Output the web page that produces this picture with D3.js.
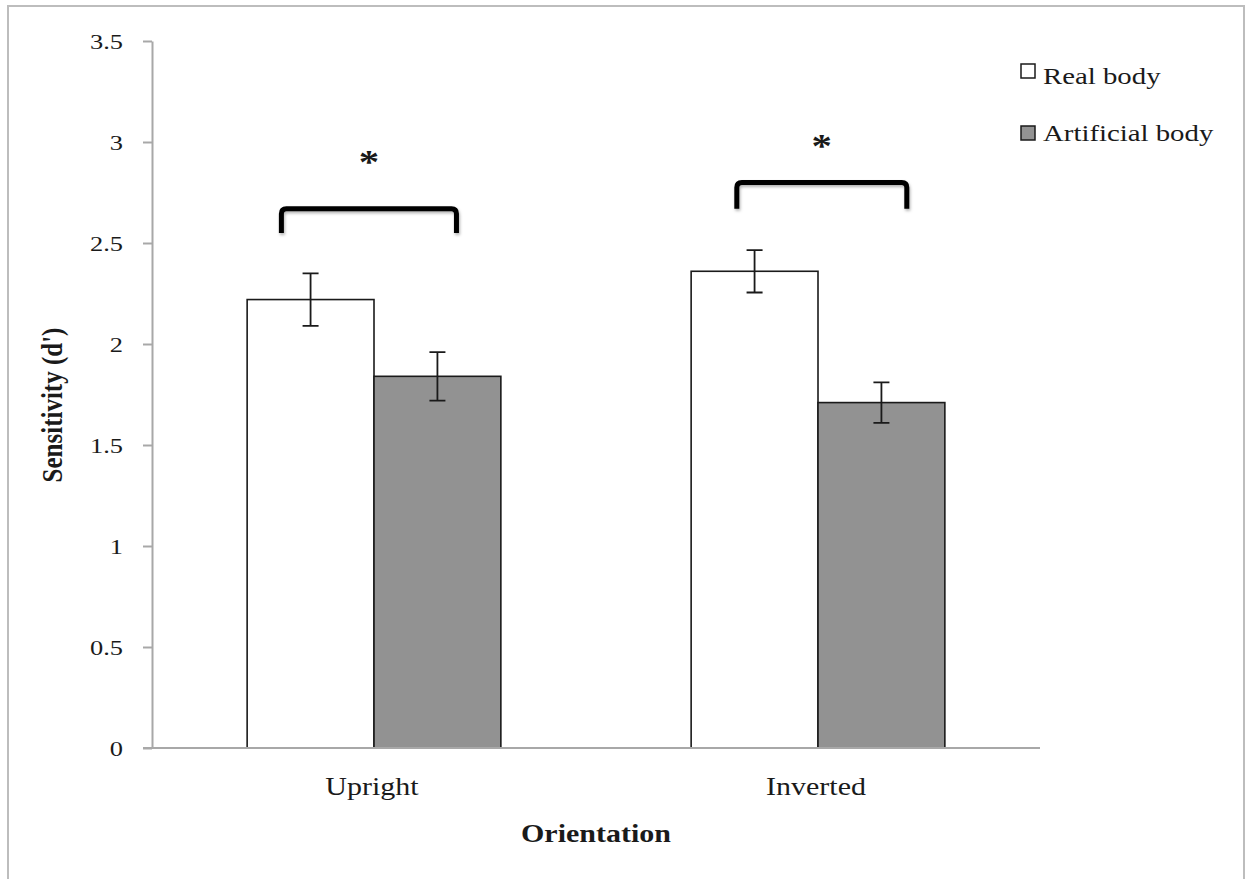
<!DOCTYPE html>
<html>
<head>
<meta charset="utf-8">
<script src="https://cdn.jsdelivr.net/npm/d3@7"></script>
<style>
    body { margin: 0; background: #fff; }
    text { font-family: "Liberation Serif", "Times New Roman", serif; fill: #1a1a1a; }
</style>
</head>
<body>
<div id="chart1"></div>
<script>
var SVGWidth = 1245;
var SVGHeight = 879;

// plot area
var Left = 152, Right = 1040, Top = 41, Bottom = 748;
// the source picture is stretched sideways, so text gets stretched too
var Stretch = 1.2;

// data
var categories = ["Upright", "Inverted"];
var series = ["Real body", "Artificial body"];
var seriesFill = ["#ffffff", "#929292"];
var means = [[2.22, 1.84], [2.36, 1.71]];   // [category][series]
var errors = [[0.13, 0.12], [0.105, 0.10]];
var yTicks = [0, 0.5, 1, 1.5, 2, 2.5, 3, 3.5];

// significance brackets: y levels in d' units
var bracketLow = [2.55, 2.67];
var bracketHigh = [2.67, 2.80];
var starLevel = [2.92, 3.0];
// where each bracket starts / ends, as a fraction of the bar width
var bracketFrom = [0.27, 0.36];
var bracketTo = [0.65, 0.70];

var svg = d3.select("#chart1")
    .append("svg")
        .attr("width", SVGWidth)
        .attr("height", SVGHeight);

var defs = svg.append("defs");
var shadow = defs.append("filter").attr("id", "shadow")
    .attr("x", "-10%").attr("y", "-20%").attr("width", "120%").attr("height", "160%");
shadow.append("feDropShadow")
    .attr("dx", 1).attr("dy", 2).attr("stdDeviation", 1.5)
    .attr("flood-color", "#000").attr("flood-opacity", 0.3);

// outer frame
svg.append("rect")
    .attr("x", 8).attr("y", 6)
    .attr("width", 1236).attr("height", 880)
    .attr("fill", "none")
    .attr("stroke", "#bdbdbd")
    .attr("stroke-width", 2);

var x = d3.scaleBand()
    .domain(categories)
    .range([Left, Right])
    .paddingInner(0)
    .paddingOuter(0);

var xSub = d3.scaleBand()
    .domain(series)
    .range([0, x.bandwidth()])
    .paddingInner(0)
    .paddingOuter(0.75);

var y = d3.scaleLinear()
    .domain([0, 3.5])
    .range([Bottom, Top]);

var color = d3.scaleOrdinal().domain(series).range(seriesFill);

// y axis
var yAxis = svg.append("g")
    .attr("transform", "translate(" + Left + ",0)")
    .call(d3.axisLeft(y)
        .tickValues(yTicks)
        .tickFormat(function(d) { return String(d); })
        .tickSize(9)
        .tickSizeOuter(0)
        .tickPadding(17));

yAxis.select(".domain").attr("stroke", "#a8a8a8").attr("stroke-width", 2);
yAxis.selectAll(".tick line").attr("stroke", "#a8a8a8").attr("stroke-width", 2);
yAxis.selectAll(".tick text")
    .attr("x", null)
    .attr("dy", "0.35em")
    .attr("transform", "translate(-29,0) scale(" + Stretch + ",1)")
    .style("font-family", "Liberation Serif")
    .style("font-size", "22px")
    .attr("fill", "#1a1a1a");

// bars
var groups = svg.selectAll(".group")
    .data(categories)
    .enter()
    .append("g")
    .attr("class", "group")
    .attr("transform", function(d) { return "translate(" + x(d) + ",0)"; });

groups.selectAll("rect")
    .data(function(d, i) {
        return series.map(function(s, j) {
            return { cat: d, series: s, value: means[i][j], err: errors[i][j] };
        });
    })
    .enter()
    .append("rect")
    .attr("x", function(d) { return xSub(d.series); })
    .attr("y", function(d) { return y(d.value); })
    .attr("width", xSub.bandwidth())
    .attr("height", function(d) { return y(0) - y(d.value); })
    .attr("fill", function(d) { return color(d.series); })
    .attr("stroke", "#1a1a1a")
    .attr("stroke-width", 1.6);

// x axis line (drawn over the bar bottoms)
svg.append("line")
    .attr("x1", Left - 9).attr("x2", Right)
    .attr("y1", y(0)).attr("y2", y(0))
    .attr("stroke", "#a8a8a8")
    .attr("stroke-width", 2);

// error bars
var capHalf = 8;
groups.selectAll(".err")
    .data(function(d, i) {
        return series.map(function(s, j) {
            return { series: s, value: means[i][j], err: errors[i][j] };
        });
    })
    .enter()
    .append("path")
    .attr("class", "err")
    .attr("fill", "none")
    .attr("stroke", "#1a1a1a")
    .attr("stroke-width", 1.8)
    .attr("d", function(d) {
        var cx = xSub(d.series) + xSub.bandwidth() / 2;
        var hi = y(d.value + d.err), lo = y(d.value - d.err);
        return "M" + (cx - capHalf) + "," + hi + "H" + (cx + capHalf) +
            "M" + cx + "," + hi + "V" + lo +
            "M" + (cx - capHalf) + "," + lo + "H" + (cx + capHalf);
    });

// significance brackets + stars
categories.forEach(function(cat, i) {
    var bw = xSub.bandwidth();
    var x0 = x(cat) + xSub(series[0]) + bracketFrom[i] * bw;
    var x1 = x(cat) + xSub(series[1]) + bracketTo[i] * bw;
    var yl = y(bracketLow[i]), yh = y(bracketHigh[i]);
    var r = 5;
    svg.append("path")
        .attr("fill", "none")
        .attr("stroke", "#000")
        .attr("stroke-width", 5)
        .attr("stroke-linecap", "butt")
        .attr("filter", "url(#shadow)")
        .attr("d", "M" + x0 + "," + yl + "V" + (yh + r) +
            "Q" + x0 + "," + yh + " " + (x0 + r) + "," + yh +
            "H" + (x1 - r) +
            "Q" + x1 + "," + yh + " " + x1 + "," + (yh + r) +
            "V" + yl);

    svg.append("text")
        .attr("text-anchor", "middle")
        .attr("transform", "translate(" + ((x0 + x1) / 2) + "," + (y(starLevel[i]) + 15) + ") scale(" + Stretch + ",1)")
        .style("font-size", "34px")
        .style("font-weight", "bold")
        .text("*");
});

// category labels
svg.selectAll(".catLabel")
    .data(categories)
    .enter()
    .append("text")
    .attr("class", "catLabel")
    .attr("text-anchor", "middle")
    .attr("transform", function(d) {
        return "translate(" + (x(d) + x.bandwidth() / 2 - 2) + "," + (Bottom + 47) + ") scale(" + Stretch + ",1)";
    })
    .style("font-size", "25px")
    .text(function(d) { return d; });

// axis titles
svg.append("text")
    .attr("text-anchor", "middle")
    .attr("transform", "translate(" + ((Left + Right) / 2) + "," + 842 + ") scale(" + Stretch + ",1)")
    .style("font-size", "25px")
    .style("font-weight", "bold")
    .text("Orientation");

svg.append("text")
    .attr("text-anchor", "middle")
    .attr("transform", "translate(62," + 405 + ") scale(" + Stretch + ",1) rotate(-90)")
    .style("font-size", "25px")
    .style("font-weight", "bold")
    .text("Sensitivity (d')");

// legend
var legend = svg.selectAll(".legend")
    .data(series)
    .enter()
    .append("g")
    .attr("class", "legend")
    .attr("transform", function(d, i) { return "translate(1021," + (84 + i * 57) + ")"; });

legend.append("rect")
    .attr("x", 0)
    .attr("y", function(d, i) { return i === 0 ? -20 : -15; })
    .attr("width", 14)
    .attr("height", 14)
    .attr("fill", function(d) { return color(d); })
    .attr("stroke", "#1a1a1a")
    .attr("stroke-width", 1.5);

legend.append("text")
    .attr("transform", "translate(22,0) scale(" + Stretch + ",1)")
    .style("font-size", "24px")
    .text(function(d) { return d; });
</script>
</body>
</html>
